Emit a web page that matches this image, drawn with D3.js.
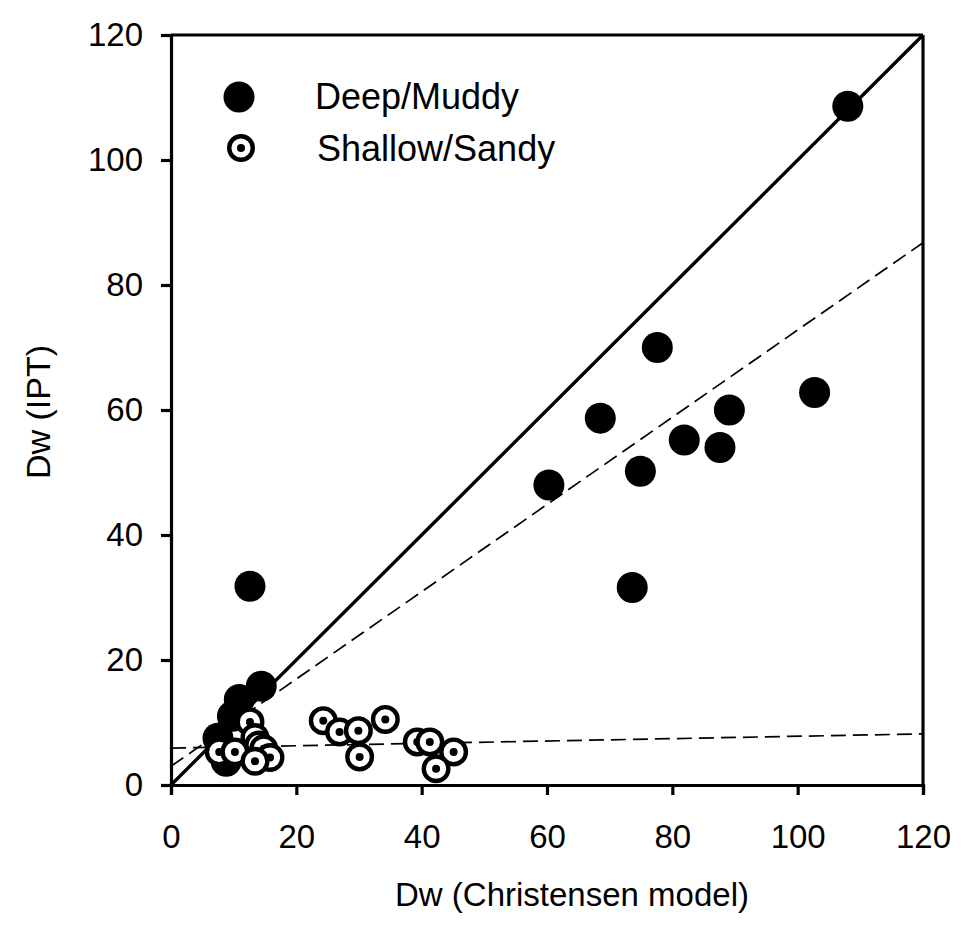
<!DOCTYPE html>
<html lang="en">
<head>
<meta charset="UTF-8">
<script src="https://d3js.org/d3.v7.min.js"></script>
<style>
  body { margin: 0; background: #fff; }
  text { font-family: 'Liberation Sans', Arial, sans-serif; fill: #000; }
</style>
</head>
<body>
<div id="chart"></div>
<script>
// values
var xTicks = [0, 20, 40, 60, 80, 100, 120];
var yTicks = [0, 20, 40, 60, 80, 100, 120];

var deepX = [108, 77.6, 68.5, 60.3, 74.9, 81.9, 87.6, 89.1, 102.7, 73.6, 12.6, 14.4, 10.9, 9.8, 7.5, 8.8];
var deepY = [108.6, 70, 58.7, 48, 50.2, 55.2, 54, 60, 62.8, 31.6, 31.8, 15.8, 13.7, 11, 7.5, 3.8];

var shallowX = [12.6, 7.7, 10.2, 13.4, 14.0, 14.8, 15.8, 13.4, 24.3, 26.9, 29.9, 34.2, 30.1, 39.3, 41.3, 45.1, 42.3];
var shallowY = [10.1, 5.3, 5.3, 7.6, 6.4, 5.8, 4.4, 3.8, 10.3, 8.5, 8.7, 10.5, 4.5, 6.9, 6.9, 5.3, 2.6];

// regression lines: intercept, slope
var fitIntercept = [3, 5.9];
var fitSlope = [0.698, 0.019];

var legendNames = ["Deep/Muddy", "Shallow/Sandy"];

var mLeft = 171, mTop = 35, w = 752, h = 750;

var svg = d3.select("#chart")
  .append("svg")
  .attr("width", 975)
  .attr("height", 942);

var g = svg.append("g")
  .attr("transform", `translate(${mLeft}, ${mTop})`);

var x = d3.scaleLinear().domain([0, 120]).range([0, w]);
var y = d3.scaleLinear().domain([0, 120]).range([h, 0]);

// 1:1 line
g.append("line")
  .attr("x1", x(0)).attr("y1", y(0))
  .attr("x2", x(120)).attr("y2", y(120))
  .attr("stroke", "#000")
  .attr("stroke-width", 3.4);

// fitted dashed lines
fitIntercept.forEach(function (b, i) {
  g.append("line")
    .attr("x1", x(0)).attr("y1", y(b))
    .attr("x2", x(120)).attr("y2", y(b + fitSlope[i] * 120))
    .attr("stroke", "#000")
    .attr("stroke-width", 1.7)
    .attr("stroke-dasharray", "15,7");
});

// deep / muddy points
g.append("g")
  .selectAll("circle")
  .data(deepX)
  .enter()
  .append("circle")
  .attr("cx", function (d) { return x(d); })
  .attr("cy", function (d, i) { return y(deepY[i]); })
  .attr("r", 15.5)
  .attr("fill", "#000");

// shallow / sandy points
var sh = g.append("g")
  .selectAll("g")
  .data(shallowX)
  .enter()
  .append("g")
  .attr("transform", function (d, i) { return `translate(${x(d)}, ${y(shallowY[i])})`; });

sh.append("circle")
  .attr("r", 12.3)
  .attr("fill", "#fff")
  .attr("stroke", "#000")
  .attr("stroke-width", 4.4);

sh.append("circle")
  .attr("r", 4)
  .attr("fill", "#000");

// frame top and right
g.append("line")
  .attr("x1", 0).attr("y1", 0).attr("x2", w).attr("y2", 0)
  .attr("stroke", "#000").attr("stroke-width", 3.2);
g.append("line")
  .attr("x1", w).attr("y1", 0).attr("x2", w).attr("y2", h)
  .attr("stroke", "#000").attr("stroke-width", 3.2);

// axes
var xAxis = g.append("g")
  .attr("transform", `translate(0, ${h})`)
  .call(d3.axisBottom(x).tickValues(xTicks).tickSizeOuter(0).tickSize(10).tickPadding(30));

var yAxis = g.append("g")
  .call(d3.axisLeft(y).tickValues(yTicks).tickSizeOuter(0).tickSize(10).tickPadding(18));

[xAxis, yAxis].forEach(function (a) {
  a.select(".domain").attr("stroke-width", 3.2);
  a.selectAll(".tick line").attr("stroke-width", 3.2);
  a.selectAll(".tick text")
    .style("font-family", "'Liberation Sans', Arial, sans-serif")
    .style("font-size", "33px");
});

// axis titles
svg.append("text")
  .attr("x", 572)
  .attr("y", 906)
  .attr("text-anchor", "middle")
  .style("font-size", "33px")
  .text("Dw (Christensen model)");

svg.append("text")
  .attr("transform", "translate(50, 412) rotate(-90)")
  .attr("text-anchor", "middle")
  .style("font-size", "34px")
  .text("Dw (IPT)");

// legend
svg.append("circle")
  .attr("cx", 239).attr("cy", 97).attr("r", 15.5)
  .attr("fill", "#000");

svg.append("circle")
  .attr("cx", 241).attr("cy", 148).attr("r", 11.8)
  .attr("fill", "#fff").attr("stroke", "#000").attr("stroke-width", 4.4);
svg.append("circle")
  .attr("cx", 241).attr("cy", 148).attr("r", 4)
  .attr("fill", "#000");

svg.append("text")
  .attr("x", 315).attr("y", 109)
  .style("font-size", "36px")
  .text(legendNames[0]);

svg.append("text")
  .attr("x", 317).attr("y", 161)
  .style("font-size", "36px")
  .text(legendNames[1]);
</script>
</body>
</html>
